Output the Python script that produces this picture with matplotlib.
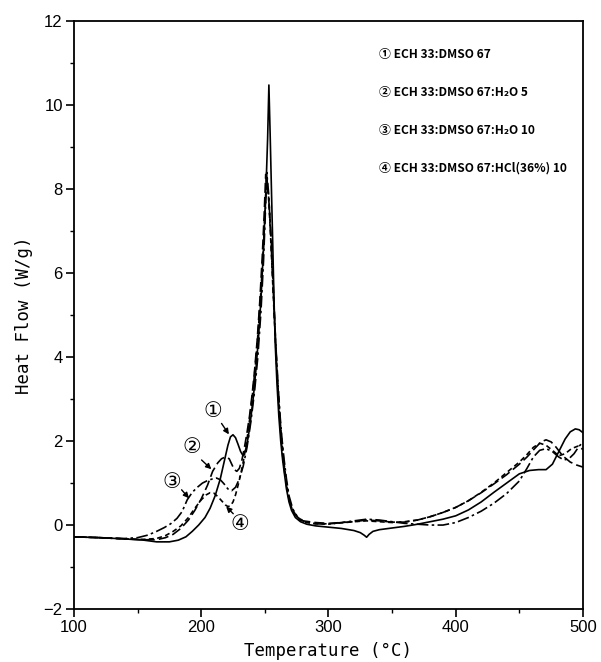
import matplotlib
matplotlib.use("Agg")
import matplotlib.pyplot as plt
from matplotlib.ticker import MultipleLocator

# ① ECH 33:DMSO 67 (solid)
temp1 = [100, 120, 140, 155, 165, 175, 182, 188, 193, 198,
         203, 207, 211, 215, 218, 221, 223, 225, 227, 229,
         231, 233, 235, 237, 239, 241, 243, 245, 247, 249,
         251, 252.2, 253.2, 254.2, 255.2, 256.3, 257.2, 258.2, 259.5, 261,
         262.5, 264, 265.5, 267, 269, 271, 274, 278, 283, 290,
         300, 310, 320, 325, 328, 330, 332, 335, 340, 350,
         360, 370, 380, 390, 400, 410, 420, 430, 440, 450,
         458, 465, 471, 476, 481, 486, 490, 494, 497, 500]
flow1 = [-0.28, -0.30, -0.33, -0.36, -0.40, -0.40, -0.36, -0.28, -0.15, 0.0,
         0.18, 0.4, 0.7, 1.1, 1.5, 1.9, 2.1, 2.15, 2.08, 1.92,
         1.75, 1.65, 1.8, 2.1, 2.55, 3.05, 3.7, 4.45, 5.4, 6.6,
         8.1, 9.2, 10.48, 9.3, 8.0, 6.6, 5.4, 4.3, 3.4, 2.6,
         2.0, 1.55, 1.2, 0.86, 0.55, 0.35, 0.18, 0.08, 0.02, -0.02,
         -0.05, -0.08, -0.13, -0.18, -0.24, -0.29, -0.22, -0.15, -0.11, -0.07,
         -0.03, 0.02, 0.08, 0.14, 0.22, 0.36, 0.55, 0.78, 1.0, 1.22,
         1.3, 1.32, 1.32, 1.45, 1.75, 2.05, 2.22, 2.29, 2.27, 2.2]

# ② ECH 33:DMSO 67:H2O 5 (dashed)
temp2 = [100, 120, 140, 155, 165, 172, 178, 184, 190, 195,
         200, 205, 209, 213, 216, 219, 222, 224, 226, 228,
         230, 232, 234, 236, 238, 240, 242, 244, 246, 248,
         249.5, 250.7, 252, 253.5, 255, 256.5, 258, 259.5, 261, 262.5,
         264, 266, 268, 271, 275, 280, 290, 300, 310, 320,
         330, 340, 350, 360, 370, 380, 390, 400, 410, 420,
         430, 440, 450, 456, 462, 467, 471, 475, 479, 484,
         490, 495, 500]
flow2 = [-0.28, -0.30, -0.33, -0.35, -0.35, -0.30, -0.22, -0.08, 0.12, 0.35,
         0.62, 0.95, 1.28, 1.48, 1.58, 1.62, 1.58, 1.45, 1.32, 1.28,
         1.35, 1.55, 1.85, 2.2, 2.6, 3.1, 3.7, 4.4, 5.3, 6.4,
         7.4, 8.35, 8.1, 7.6, 6.8, 5.8, 4.7, 3.7, 2.85, 2.2,
         1.65, 1.15, 0.75, 0.42, 0.2, 0.1, 0.06, 0.04, 0.06, 0.08,
         0.12, 0.1, 0.07, 0.07, 0.12, 0.2, 0.3, 0.42, 0.58, 0.77,
         0.98, 1.2, 1.45, 1.62, 1.82, 1.98, 2.03, 1.98, 1.85, 1.65,
         1.5, 1.43, 1.38]

# ③ ECH 33:DMSO 67:H2O 10 (dash-dot)
temp3 = [100, 120, 140, 150, 158, 165, 171, 176, 181, 185,
         189, 193, 197, 201, 205, 209, 212, 215, 218, 221,
         224, 227, 230, 233, 236, 239, 242, 244.5, 247, 249,
         250.5, 251.5, 253, 254.5, 256, 257.5, 259, 260.5, 262, 263.5,
         265, 267, 269, 272, 276, 281, 290, 300, 310, 320,
         330, 340, 350, 360, 370, 380, 390, 400, 410, 420,
         430, 440, 450, 456, 461, 466, 471, 476, 481, 485,
         489, 493, 497, 500]
flow3 = [-0.28, -0.30, -0.32, -0.30, -0.24, -0.15, -0.06, 0.03, 0.16, 0.32,
         0.6, 0.78, 0.9, 1.0, 1.06, 1.1, 1.12, 1.08, 0.98, 0.86,
         0.82, 0.9, 1.1, 1.4, 1.85, 2.45, 3.2, 4.0, 5.1, 6.3,
         7.5, 8.4, 7.9, 7.0, 6.0, 5.0, 4.1, 3.3, 2.6, 2.05,
         1.6, 1.1, 0.7, 0.38, 0.18, 0.08, 0.03, 0.02, 0.06, 0.1,
         0.14, 0.12, 0.08, 0.04, 0.02, 0.0, 0.0, 0.06, 0.18, 0.33,
         0.52, 0.75, 1.05, 1.35, 1.62, 1.78, 1.82, 1.75, 1.62, 1.55,
         1.58, 1.7, 1.88, 1.97]

# ④ ECH 33:DMSO 67:HCl(36%) 10 (short dashes)
temp4 = [100, 120, 140, 155, 165, 172, 178, 184, 190, 195,
         200, 204, 207, 210, 213, 216, 219, 221, 223, 225,
         227, 229, 231, 233, 235, 237, 239, 241, 243, 245,
         247, 249, 250.5, 251.5, 253, 254.5, 256, 257.5, 259, 260.5,
         262, 263.5, 265, 267, 269, 272, 276, 281, 290, 300,
         310, 320, 330, 340, 350, 360, 370, 380, 390, 400,
         410, 420, 430, 440, 450, 456, 461, 466, 471, 476,
         481, 486, 491, 496, 500]
flow4 = [-0.28, -0.30, -0.33, -0.34, -0.32, -0.25, -0.15, -0.02, 0.18, 0.4,
         0.6, 0.72, 0.77, 0.76, 0.68, 0.58, 0.48, 0.44, 0.46, 0.55,
         0.72, 0.95, 1.2, 1.5, 1.85, 2.25, 2.75, 3.3, 3.95, 4.7,
         5.6, 6.7, 7.7, 8.3, 7.8, 6.9, 5.9, 4.9, 4.0, 3.2,
         2.5, 1.95, 1.5, 1.0, 0.62, 0.32, 0.15, 0.07, 0.03, 0.03,
         0.05, 0.08, 0.1, 0.08, 0.06, 0.08, 0.12, 0.2, 0.3, 0.42,
         0.58, 0.78, 1.0, 1.25, 1.5, 1.68, 1.85, 1.95, 1.9, 1.78,
         1.65, 1.7, 1.82, 1.88, 1.8]

legende = ["① ECH 33:DMSO 67",
           "② ECH 33:DMSO 67:H₂O 5",
           "③ ECH 33:DMSO 67:H₂O 10",
           "④ ECH 33:DMSO 67:HCl(36%) 10"]

nummern = ["①", "②", "③", "④"]
nummer_pos = [(209, 2.71), (192.4, 1.86), (176.7, 1.02), (230.5, 0.02)]
pfeil_von = [(216, 2.42), (200.3, 1.55), (184.6, 0.84), (225.2, 0.27)]
pfeil_nach = [(221.8, 2.16), (208, 1.33), (190.4, 0.64), (219.6, 0.44)]

fig = plt.figure(figsize=(6.01, 6.62), dpi=100)
ax = fig.add_axes([0.123, 0.080, 0.847, 0.888])

stil = dict(color="black", lw=1.2)
ax.plot(temp1, flow1, ls="-", **stil)
ax.plot(temp2, flow2, ls=(0, (6, 2.5)), **stil)
ax.plot(temp3, flow3, ls=(0, (7, 2, 1.5, 2)), **stil)
ax.plot(temp4, flow4, ls=(0, (3, 2)), **stil)

ax.set_xlim(100, 500)
ax.set_ylim(-2, 12)
ax.xaxis.set_major_locator(MultipleLocator(100))
ax.xaxis.set_minor_locator(MultipleLocator(50))
ax.yaxis.set_major_locator(MultipleLocator(2))
ax.yaxis.set_minor_locator(MultipleLocator(1))
ax.tick_params(which="major", direction="out", length=6, width=1.2,
               labelsize=12, pad=2, top=False, right=False)
ax.tick_params(which="minor", direction="out", length=3, width=1.0,
               top=False, right=False)
for lab in ax.get_xticklabels() + ax.get_yticklabels():
    lab.set_fontfamily(["Liberation Sans", "DejaVu Sans"])
for sp in ax.spines.values():
    sp.set_linewidth(1.3)

ax.set_xlabel("Temperature (°C)", fontfamily="DejaVu Sans Mono",
              fontsize=12.5, labelpad=5)
ax.set_ylabel("Heat Flow (W/g)", fontfamily="DejaVu Sans Mono",
              fontsize=12.5, labelpad=8)

for i, txt in enumerate(legende):
    ax.text(339.6, 11.2 - 0.9 * i, txt, va="center", ha="left",
            fontsize=8.6, fontweight="bold",
            family=["Noto Sans CJK JP", "DejaVu Sans"])

for n, pos, a, b in zip(nummern, nummer_pos, pfeil_von, pfeil_nach):
    ax.text(pos[0], pos[1], n, ha="center", va="center", fontsize=15,
            family=["DejaVu Sans", "Noto Sans CJK JP"])
    ax.annotate("", xy=b, xytext=a,
                arrowprops=dict(arrowstyle="-|>", color="black", lw=1.0,
                                mutation_scale=8, shrinkA=0, shrinkB=0))

fig.savefig("out.png", dpi=100)
